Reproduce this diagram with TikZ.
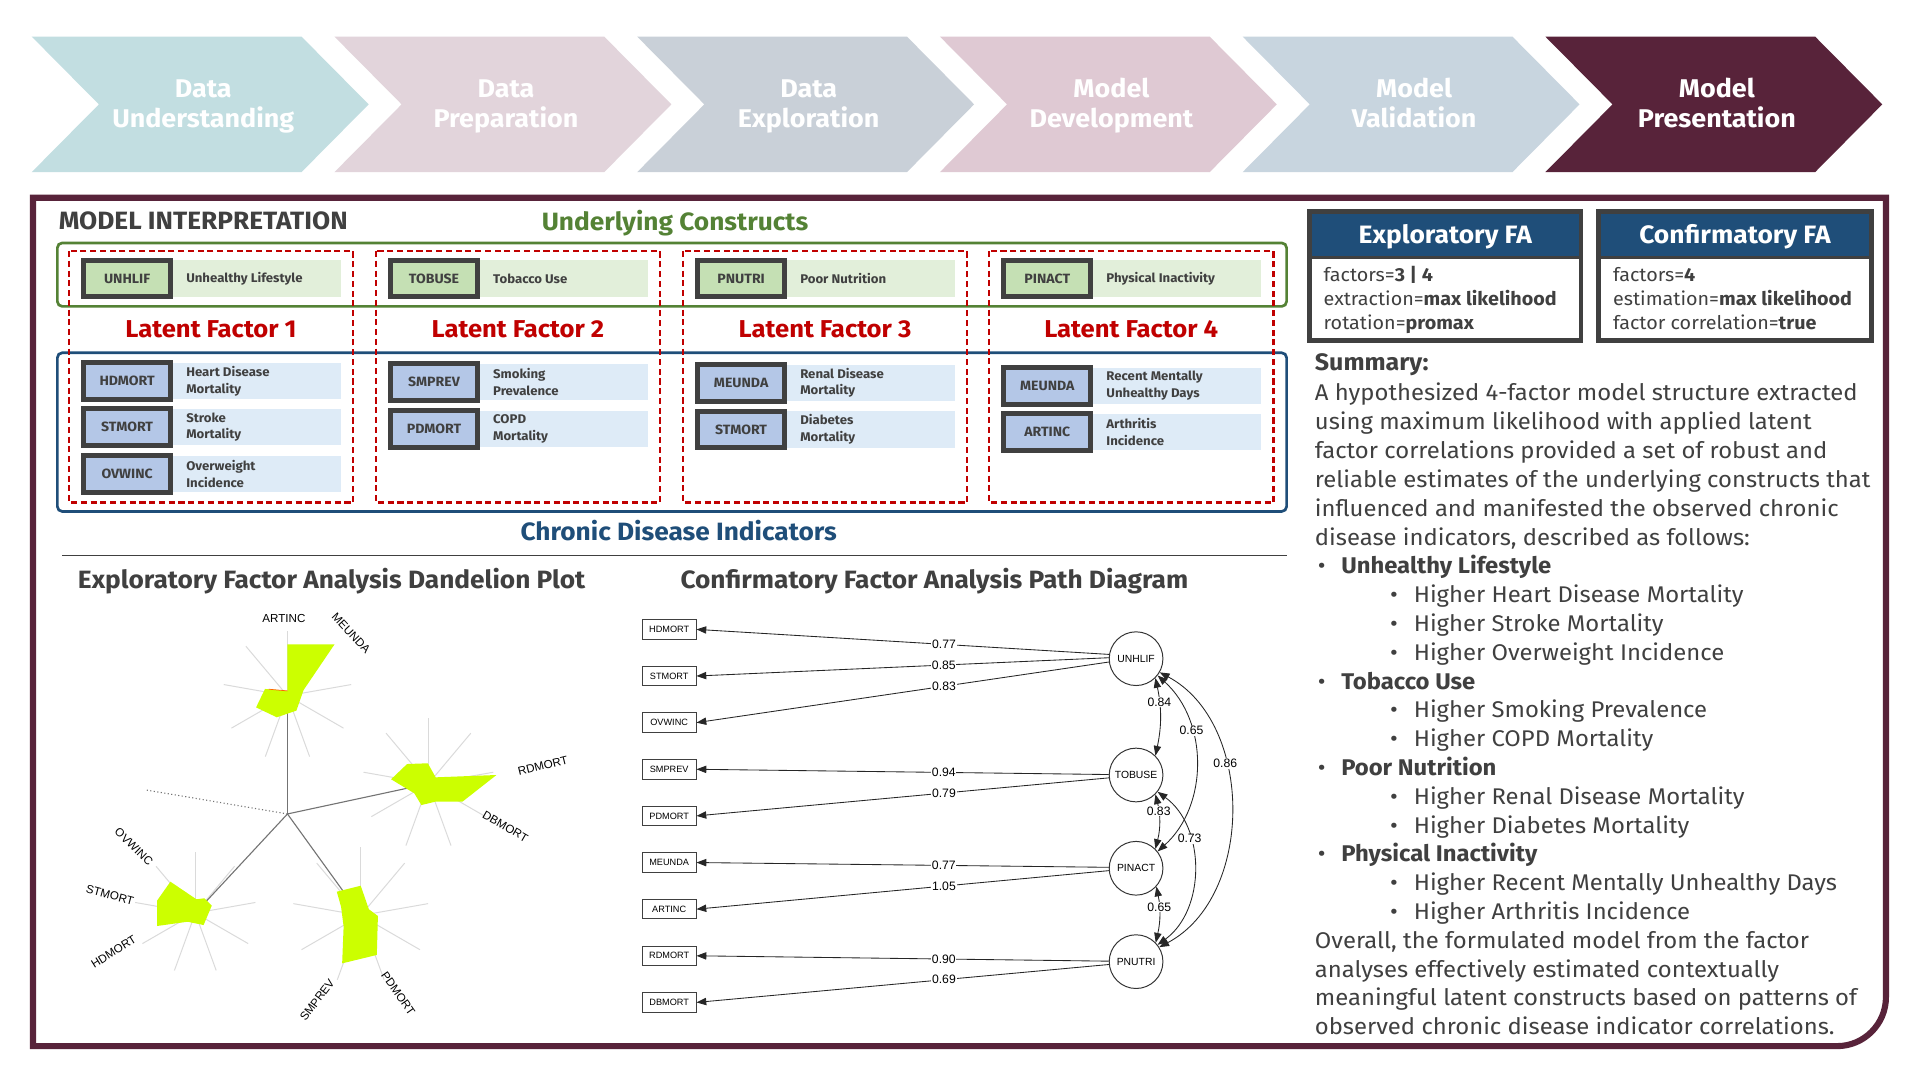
\documentclass[tikz,border=0pt]{standalone}
\usepackage{fontspec}
\setmainfont{Fira Sans}[FakeStretch=1.05]
\newfontfamily\plotfont{Liberation Sans}
\usetikzlibrary{arrows.meta,calc}
\definecolor{maroon}{HTML}{58233A}
\definecolor{chevA}{HTML}{C2DEE1}
\definecolor{chevB}{HTML}{E2D4DB}
\definecolor{chevC}{HTML}{C9D0D8}
\definecolor{chevD}{HTML}{DFC9D3}
\definecolor{chevE}{HTML}{C8D5DF}
\definecolor{txtgray}{HTML}{404040}
\definecolor{cgreen}{HTML}{548235}
\definecolor{cblue}{HTML}{1F4E79}
\definecolor{cred}{HTML}{C00000}
\definecolor{codegreen}{HTML}{C5E0B4}
\definecolor{descgreen}{HTML}{E2EFDA}
\definecolor{codeblue}{HTML}{B4C7E7}
\definecolor{descblue}{HTML}{DEEBF7}
\definecolor{lime}{HTML}{CCFF00}
\definecolor{spokecol}{HTML}{DADADA}
\newcommand{\lfrow}[7]{%
  \fill[#5] (#2+85.5,#3-14.8) rectangle (#2+223,#3+14.8);
  \node[#4] (#1) at (#2+47.75,#3) {#6};
  \node[desctext] (#1d) at (#2+96,#3) {#7};}
\begin{document}
\begin{tikzpicture}[x=1pt,y=-1pt,
  chevtext/.style={text=white, font=\fontsize{21}{24.5}\selectfont\bfseries, align=center, inner sep=0pt},
  codebox/.style={draw=txtgray, line width=4pt, minimum width=71.5pt, minimum height=29pt, inner sep=0pt, font=\fontsize{11}{13}\selectfont\bfseries, text=txtgray},
  codeg/.style={codebox, fill=codegreen},
  codeb/.style={codebox, fill=codeblue, minimum height=30pt},
  desctext/.style={anchor=west, align=left, inner sep=0pt, font=\fontsize{10.3}{13.7}\selectfont\bfseries, text=txtgray},
  factorlbl/.style={anchor=base, inner sep=0pt, font=\fontsize{20}{24}\selectfont\bfseries, text=cred},
  reddash/.style={draw=cred, line width=2pt, dash pattern=on 5pt off 3pt},
  heading/.style={anchor=base, inner sep=0pt, font=\fontsize{20.5}{24}\selectfont\bfseries},
  fahead/.style={anchor=base, inner sep=0pt, text=white, font=\fontsize{20.6}{24}\selectfont\bfseries},
  fabody/.style={anchor=base west, inner sep=0pt, text=txtgray, font=\fontsize{15.4}{20}\selectfont},
  sumtext/.style={anchor=base west, inner sep=0pt, text=txtgray, font=\fontsize{18.6}{22}\selectfont},
  obs/.style={draw=black!75, line width=0.8pt, minimum width=44pt, minimum height=16pt, inner sep=0pt, font=\plotfont\fontsize{7.5}{8}\selectfont},
  lat/.style={circle, draw=black!80, line width=0.8pt, minimum size=44pt, inner sep=0pt, font=\plotfont\fontsize{8.5}{9}\selectfont},
  load/.style={-{Triangle[length=8pt,width=6pt]}, line width=0.7pt, draw=black!85},
  cov/.style={{Triangle[length=8pt,width=6pt]}-{Triangle[length=8pt,width=6pt]}, line width=0.7pt, draw=black!85},
  lbl/.style={fill=white, inner sep=0.6pt, font=\plotfont\fontsize{10}{11}\selectfont},
  spoke/.style={draw=spokecol, line width=0.8pt},
  stem/.style={draw=black!55, line width=0.9pt},
  dlab/.style={font=\plotfont\fontsize{9.5}{10}\selectfont, inner sep=0pt}]
\useasboundingbox (0,0) rectangle (1568,881);
\fill[white] (0,0) rectangle (1568,881);

% ---------- chevrons ----------
\foreach \i/\c in {0/chevA,1/chevB,2/chevC,3/chevD,4/chevE,5/maroon}{
  \fill[\c] (26+248*\i,30) -- (247+248*\i,30) -- (302+248*\i,85.5) -- (247+248*\i,141) -- (26+248*\i,141) -- (81+248*\i,85.5) -- cycle;}
\node[chevtext] (ch1) at (166.5,87) {Data\strut\\Understanding\strut};
\node[chevtext] (ch2) at (414.5,87) {Data\strut\\Preparation\strut};
\node[chevtext] (ch3) at (662.5,87) {Data\strut\\Exploration\strut};
\node[chevtext] (ch4) at (910.5,87) {Model\strut\\Development\strut};
\node[chevtext] (ch5) at (1158.5,87) {Model\strut\\Validation\strut};
\node[chevtext] (ch6) at (1406.5,87) {Model\strut\\Presentation\strut};

% ---------- frame ----------
\draw[maroon, line width=5pt] (27,857) -- (27,162) -- (1545,162) -- (1545,817) .. controls (1545,839) and (1527,857) .. (1505,857) -- cycle;

% ---------- model interpretation ----------
\node[heading, anchor=base west, text=txtgray] (mi) at (48,188) {MODEL INTERPRETATION};
\node[heading, text=cgreen] (uc) at (553,189) {Underlying Constructs};
\draw[cgreen, line width=2.2pt, rounded corners=4pt] (47,199) rectangle (1054,251);
\draw[cblue, line width=2.2pt, rounded corners=4pt] (47,289) rectangle (1054,419);

\lfrow{g1}{56.4}{228.2}{codeg}{descgreen}{UNHLIF}{Unhealthy Lifestyle}
\lfrow{g2}{307.8}{228.2}{codeg}{descgreen}{TOBUSE}{Tobacco Use}
\lfrow{g3}{559.4}{228.2}{codeg}{descgreen}{PNUTRI}{Poor Nutrition}
\lfrow{g4}{810.2}{228.2}{codeg}{descgreen}{PINACT}{Physical Inactivity}

\lfrow{b1a}{56.4}{312.3}{codeb}{descblue}{HDMORT}{Heart Disease\\Mortality}
\lfrow{b1b}{56.4}{350}{codeb}{descblue}{STMORT}{Stroke\\Mortality}
\lfrow{b1c}{56.4}{388.2}{codeb}{descblue}{OVWINC}{Overweight\\Incidence}
\lfrow{b2a}{307.8}{313}{codeb}{descblue}{SMPREV}{Smoking\\Prevalence}
\lfrow{b2b}{307.8}{351.3}{codeb}{descblue}{PDMORT}{COPD\\Mortality}
\lfrow{b3a}{559.4}{313.7}{codeb}{descblue}{MEUNDA}{Renal Disease\\Mortality}
\lfrow{b3b}{559.4}{351.8}{codeb}{descblue}{STMORT}{Diabetes\\Mortality}
\lfrow{b4a}{810.2}{316.2}{codeb}{descblue}{MEUNDA}{Recent Mentally\\Unhealthy Days}
\lfrow{b4b}{810.2}{353.8}{codeb}{descblue}{ARTINC}{Arthritis\\Incidence}

\foreach \L/\k in {56.4/1,307.8/2,559.4/3,810.2/4}{
  \draw[reddash] (\L,205.6) rectangle (\L+233,411.8);
  \node[factorlbl] (lf\k) at (\L+116.5,276.6) {Latent Factor \k};}

\node[heading, text=cblue] (cdi) at (556,443) {Chronic Disease Indicators};
\coordinate (hl1) at (51,455);
\coordinate (hl2) at (1054,455);
\draw[txtgray, line width=1pt] (hl1) -- (hl2);

\node[heading, text=txtgray] (efat) at (271.7,482) {Exploratory Factor Analysis Dandelion Plot};
\node[heading, text=txtgray] (cfat) at (765.5,482) {Confirmatory Factor Analysis Path Diagram};

% ---------- dandelion plot ----------
\coordinate (M) at (235.5,666.8);
\coordinate (C1) at (235.5,570);
\coordinate (C2) at (351,642);
\coordinate (C3) at (295.5,750);
\coordinate (C4) at (160,748);
\coordinate (Dd) at (119.9,647.2);
\foreach \a in {90,130,...,410}{
  \draw[spoke] (C1) -- ++(-\a:53);
  \draw[spoke] (C2) -- ++(-\a:54);
  \draw[spoke] (C3) -- ++(-\a:56);
  \draw[spoke] (C4) -- ++(-\a:50);}
\draw[stem] (M) -- (C1);
\draw[stem] (M) -- (C2);
\draw[stem] (M) -- (C3);
\draw[stem] (M) -- (C4);
\draw[black!55, line width=0.9pt, dotted] (M) -- (Dd);
\fill[lime] (235.5,527.8) -- (274.1,527.8) -- (248.7,565.3) -- (242.8,582.2) -- (226.7,587.6) -- (209.8,579.5) -- (217.1,564.4) -- (235.5,566) -- cycle;
\draw[orange!80!red, line width=0.6pt] (220,564.6) -- (235.5,566);
\fill[lime] (333.5,625.9) -- (350.5,625.3) -- (356.9,636.8) -- (406.7,634.9) -- (378.9,656.7) -- (356.9,656.7) -- (345.2,659.5) -- (339.4,649.9) -- (320.4,638.4) -- cycle;
\fill[lime] (275.9,730.5) -- (295.5,725.6) -- (302.2,744.9) -- (309.6,750.4) -- (308.7,782.3) -- (280.3,789.2) -- (281.5,759.1) -- (279.4,742.8) -- cycle;
\fill[lime] (139.6,722.3) -- (160.9,736.7) -- (167.4,735.9) -- (173.5,741.9) -- (166.8,757.8) -- (153.6,755.1) -- (128.7,758.6) -- (128.7,737.8) -- cycle;
\node[dlab] (lARTINC) at (232.6,506.8) {ARTINC};
\node[dlab, rotate=-47] (lMEUNDA) at (287.6,518.8) {MEUNDA};
\node[dlab, rotate=14] (lRDMORT) at (444.7,627.5) {RDMORT};
\node[dlab, rotate=-30] (lDBMORT) at (414,677.2) {DBMORT};
\node[dlab, rotate=-55] (lPDMORT) at (326.2,813.7) {PDMORT};
\node[dlab, rotate=53] (lSMPREV) at (259.8,819.2) {SMPREV};
\node[dlab, rotate=32] (lHDMORT) at (93.1,779.6) {HDMORT};
\node[dlab, rotate=-15] (lSTMORT) at (90.1,733.2) {STMORT};
\node[dlab, rotate=-44] (lOVWINC) at (109.7,693.6) {OVWINC};

% ---------- CFA path diagram ----------
\node[obs] (o1) at (548.2,515.6) {HDMORT};
\node[obs] (o2) at (548.2,553.8) {STMORT};
\node[obs] (o3) at (548.2,592) {OVWINC};
\node[obs] (o4) at (548.2,630.2) {SMPREV};
\node[obs] (o5) at (548.2,668.4) {PDMORT};
\node[obs] (o6) at (548.2,706.6) {MEUNDA};
\node[obs] (o7) at (548.2,744.8) {ARTINC};
\node[obs] (o8) at (548.2,783) {RDMORT};
\node[obs] (o9) at (548.2,821.2) {DBMORT};
\node[lat] (U) at (930.7,539.6) {UNHLIF};
\node[lat] (T) at (930.7,634.9) {TOBUSE};
\node[lat] (PA) at (930.7,711.3) {PINACT};
\node[lat] (PN) at (930.7,787.8) {PNUTRI};
\draw[load] (U.171) -- node[lbl, pos=0.4] {0.77} (o1.east);
\draw[load] (U.178) -- node[lbl, pos=0.4] {0.85} (o2.east);
\draw[load] (U.187) -- node[lbl, pos=0.4] {0.83} (o3.east);
\draw[load] (T.179) -- node[lbl, pos=0.4] {0.94} (o4.east);
\draw[load] (T.186) -- node[lbl, pos=0.4] {0.79} (o5.east);
\draw[load] (PA.178) -- node[lbl, pos=0.4] {0.77} (o6.east);
\draw[load] (PA.185) -- node[lbl, pos=0.4] {1.05} (o7.east);
\draw[load] (PN.179) -- node[lbl, pos=0.4] {0.90} (o8.east);
\draw[load] (PN.186) -- node[lbl, pos=0.4] {0.69} (o9.east);
\draw[cov] (U.-45) to[bend left=12] node[lbl, pos=0.3] {0.84} (T.45);
\draw[cov] (U.-38) to[bend left=48] node[lbl, pos=0.33] {0.65} (PA.38);
\draw[cov] (U.-30) to[bend left=62] node[lbl, pos=0.36] {0.86} (PN.32);
\draw[cov] (T.-45) to[bend left=14] node[lbl, pos=0.3] {0.83} (PA.45);
\draw[cov] (T.-38) to[bend left=54] node[lbl, pos=0.33] {0.73} (PN.38);
\draw[cov] (PA.-42) to[bend left=12] node[lbl, pos=0.35] {0.65} (PN.44);

% ---------- FA boxes ----------
\fill[cblue] (1072.7,173.5) rectangle (1295.2,211);
\draw[txtgray, line width=4pt] (1072.7,173.5) rectangle (1295.2,278.7);
\draw[txtgray, line width=3pt] (1072.7,211) -- (1295.2,211);
\node[fahead] (efa) at (1184,199.3) {Exploratory FA};
\node[fabody] (efa1) at (1084.2,230.7) {factors=\textbf{3 | 4}};
\node[fabody] (efa2) at (1084.2,250.4) {extraction=\textbf{max likelihood}};
\node[fabody] (efa3) at (1084.2,269.8) {rotation=\textbf{promax}};
\fill[cblue] (1309.8,173.5) rectangle (1532.8,211);
\draw[txtgray, line width=4pt] (1309.8,173.5) rectangle (1532.8,278.7);
\draw[txtgray, line width=3pt] (1309.8,211) -- (1532.8,211);
\node[fahead] (cfa) at (1421.3,199.3) {Confirmatory FA};
\node[fabody] (cfa1) at (1321.3,230.7) {factors=\textbf{4}};
\node[fabody] (cfa2) at (1321.3,250.4) {estimation=\textbf{max likelihood}};
\node[fabody] (cfa3) at (1321.3,269.8) {factor correlation=\textbf{true}};

% ---------- summary ----------
\node[sumtext, font=\fontsize{19.5}{22}\selectfont\bfseries] (sumh) at (1077,303.6) {Summary:};
\node[sumtext] (s0) at (1077,328.5) {A hypothesized 4-factor model structure extracted};
\node[sumtext] (s1) at (1077,352.1) {using maximum likelihood with applied latent};
\node[sumtext] (s2) at (1077,375.7) {factor correlations provided a set of robust and};
\node[sumtext] (s3) at (1077,399.3) {reliable estimates of the underlying constructs that};
\node[sumtext] (s4) at (1077,422.9) {influenced and manifested the observed chronic};
\node[sumtext] (s5) at (1077,446.5) {disease indicators, described as follows:};
\node[sumtext] (p6) at (1079.4,470.1) {•};
\node[sumtext] (s6) at (1098.6,470.1) {\bfseries Unhealthy Lifestyle};
\node[sumtext] (p7) at (1138.7,493.7) {•};
\node[sumtext] (s7) at (1158,493.7) {Higher Heart Disease Mortality};
\node[sumtext] (p8) at (1138.7,517.3) {•};
\node[sumtext] (s8) at (1158,517.3) {Higher Stroke Mortality};
\node[sumtext] (p9) at (1138.7,540.9) {•};
\node[sumtext] (s9) at (1158,540.9) {Higher Overweight Incidence};
\node[sumtext] (p10) at (1079.4,564.5) {•};
\node[sumtext] (s10) at (1098.6,564.5) {\bfseries Tobacco Use};
\node[sumtext] (p11) at (1138.7,588.1) {•};
\node[sumtext] (s11) at (1158,588.1) {Higher Smoking Prevalence};
\node[sumtext] (p12) at (1138.7,611.7) {•};
\node[sumtext] (s12) at (1158,611.7) {Higher COPD Mortality};
\node[sumtext] (p13) at (1079.4,635.3) {•};
\node[sumtext] (s13) at (1098.6,635.3) {\bfseries Poor Nutrition};
\node[sumtext] (p14) at (1138.7,658.9) {•};
\node[sumtext] (s14) at (1158,658.9) {Higher Renal Disease Mortality};
\node[sumtext] (p15) at (1138.7,682.5) {•};
\node[sumtext] (s15) at (1158,682.5) {Higher Diabetes Mortality};
\node[sumtext] (p16) at (1079.4,706.1) {•};
\node[sumtext] (s16) at (1098.6,706.1) {\bfseries Physical Inactivity};
\node[sumtext] (p17) at (1138.7,729.7) {•};
\node[sumtext] (s17) at (1158,729.7) {Higher Recent Mentally Unhealthy Days};
\node[sumtext] (p18) at (1138.7,753.3) {•};
\node[sumtext] (s18) at (1158,753.3) {Higher Arthritis Incidence};
\node[sumtext] (s19) at (1077,776.9) {Overall, the formulated model from the factor};
\node[sumtext] (s20) at (1077,800.5) {analyses effectively estimated contextually};
\node[sumtext] (s21) at (1077,824.1) {meaningful latent constructs based on patterns of};
\node[sumtext] (s22) at (1077,847.7) {observed chronic disease indicator correlations.};
\end{tikzpicture}
\end{document}
